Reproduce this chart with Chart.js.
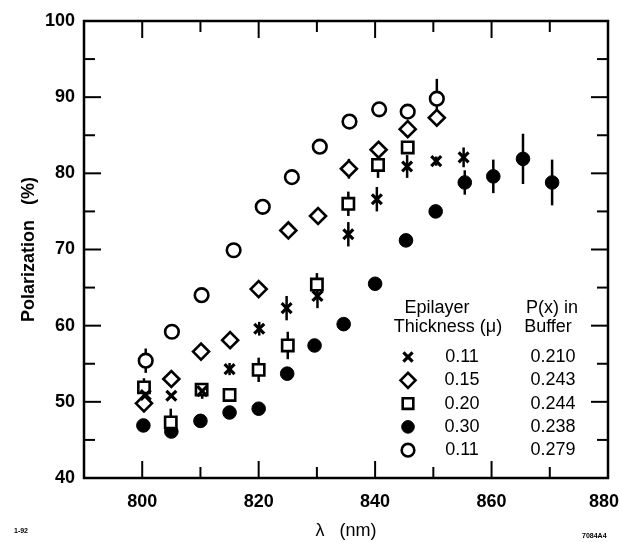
<!DOCTYPE html>
<html>
<head>
<meta charset="utf-8">
<script src="https://cdn.jsdelivr.net/npm/chart.js@4"></script>
<style>
  body { margin: 0; background: #fff; }
  #chart { display: block; }
</style>
</head>
<body>
<canvas id="chart" width="620" height="542"></canvas>
<script>
// values (wavelength in nm, polarization in %)
// err = half length of the vertical error bar, 0 where none is drawn
const crossX = [800.6, 805.0, 810.3, 815.0, 820.1, 824.8, 830.1, 835.4, 840.3, 845.5, 850.5, 855.2];
const crossY = [50.9, 50.8, 51.4, 54.3, 59.6, 62.3, 63.9, 72.0, 76.6, 80.9, 81.6, 82.1];
const crossErr = [0, 0, 1.0, 0.8, 0.9, 1.6, 1.6, 1.6, 1.6, 1.5, 0.6, 1.3];

const diamondX = [800.3, 805.0, 810.1, 815.1, 820.0, 825.1, 830.2, 835.5, 840.6, 845.6, 850.6];
const diamondY = [49.8, 53.0, 56.6, 58.1, 64.8, 72.5, 74.4, 80.6, 83.1, 85.8, 87.3];
const diamondErr = [0, 0, 0, 0, 0, 0, 0, 1.3, 0, 0, 0];

const squareX = [800.3, 804.9, 810.2, 815.0, 820.0, 825.0, 830.0, 835.4, 840.5, 845.6];
const squareY = [51.9, 47.3, 51.6, 50.9, 54.2, 57.4, 65.4, 76.0, 81.1, 83.4];
const squareErr = [1.2, 1.8, 0, 0, 1.6, 1.8, 1.5, 1.6, 1.7, 0];

const filledX = [800.2, 805.0, 810.0, 815.0, 820.0, 824.9, 829.6, 834.6, 840.0, 845.3, 850.4, 855.4, 860.3, 865.4, 870.4];
const filledY = [46.9, 46.1, 47.5, 48.6, 49.1, 53.7, 57.4, 60.2, 65.5, 71.2, 75.0, 78.8, 79.6, 81.9, 78.8];
const filledErr = [0, 0, 0, 0, 0, 0, 0, 0, 0, 0, 0, 1.6, 2.2, 3.3, 3.0];

const openX = [800.6, 805.1, 810.2, 815.7, 820.7, 825.7, 830.5, 835.6, 840.7, 845.6, 850.6];
const openY = [55.4, 59.2, 64.0, 69.9, 75.6, 79.5, 83.5, 86.8, 88.4, 88.1, 89.8];
const openErr = [1.6, 0, 0, 0, 0, 0, 0, 0, 0, 0, 2.6];

// legend table
const thickness = ['0.11', '0.15', '0.20', '0.30', '0.11'];
const bufferPx = ['0.210', '0.243', '0.244', '0.238', '0.279'];

// axes
const xTickLabels = [800, 820, 840, 860, 880];
const xTickMarks = [800, 810, 820, 830, 840, 850, 860, 870];
const yTickLabels = [40, 50, 60, 70, 80, 90, 100];
const yTickMarks = [45, 50, 55, 60, 65, 70, 75, 80, 85, 90, 95];

const font = '"Liberation Sans", Arial, Helvetica, sans-serif';

function pts(xs, ys) {
  return xs.map((x, i) => ({ x: x, y: ys[i] }));
}

function series(xs, ys, errs, style, radius, fill, bw) {
  return {
    data: pts(xs, ys),
    errors: errs,
    pointStyle: style,
    pointRadius: radius,
    pointHoverRadius: radius,
    pointBackgroundColor: fill,
    pointBorderColor: '#000',
    pointBorderWidth: bw,
    showLine: false
  };
}

const datasets = [
  series(crossX, crossY, crossErr, 'crossRot', 7, '#000', 3.2),
  series(diamondX, diamondY, diamondErr, 'rectRot', 8, '#fff', 2.6),
  series(squareX, squareY, squareErr, 'rect', 8, '#fff', 2.6),
  series(filledX, filledY, filledErr, 'circle', 6.8, '#000', 1),
  series(openX, openY, openErr, 'circle', 6.8, '#fff', 2.6)
];

const errorBars = {
  id: 'errorBars',
  beforeDatasetsDraw(chart) {
    const ctx = chart.ctx;
    const x = chart.scales.x, y = chart.scales.y;
    ctx.save();
    ctx.strokeStyle = '#000';
    ctx.lineWidth = 2.5;
    chart.data.datasets.forEach((ds) => {
      ds.data.forEach((p, i) => {
        const e = ds.errors[i];
        if (!e) return;
        const px = x.getPixelForValue(p.x);
        ctx.beginPath();
        ctx.moveTo(px, y.getPixelForValue(p.y + e));
        ctx.lineTo(px, y.getPixelForValue(p.y - e));
        ctx.stroke();
      });
    });
    ctx.restore();
  }
};

function line(ctx, x1, y1, x2, y2) {
  ctx.beginPath();
  ctx.moveTo(x1, y1);
  ctx.lineTo(x2, y2);
  ctx.stroke();
}

const frame = {
  id: 'frame',
  afterDraw(chart) {
    const ctx = chart.ctx;
    const a = chart.chartArea;
    const x = chart.scales.x, y = chart.scales.y;
    ctx.save();
    ctx.strokeStyle = '#000';
    ctx.lineWidth = 2.5;
    ctx.strokeRect(a.left, a.top, a.right - a.left, a.bottom - a.top);
    ctx.lineWidth = 2;
    xTickMarks.forEach((v) => {
      const len = xTickLabels.includes(v) ? 17 : 11;
      const px = x.getPixelForValue(v);
      line(ctx, px, a.bottom, px, a.bottom - len);
      line(ctx, px, a.top, px, a.top + len);
    });
    yTickMarks.forEach((v) => {
      const len = yTickLabels.includes(v) ? 17 : 11;
      const py = y.getPixelForValue(v);
      line(ctx, a.left, py, a.left + len, py);
      line(ctx, a.right, py, a.right - len, py);
    });

    // last x label sits at the canvas edge, pull it in so it is not cut
    ctx.fillStyle = '#000';
    ctx.font = 'bold 18px ' + font;
    ctx.textAlign = 'right';
    ctx.textBaseline = 'middle';
    const last = xTickLabels[xTickLabels.length - 1];
    ctx.fillText(String(last), 619, a.bottom + 24);

    // legend table inside the plot
    const lx = a.left;
    const ly = a.top;
    ctx.font = '18px ' + font;
    ctx.textAlign = 'center';
    ctx.fillText('Epilayer', lx + 353, ly + 287);
    ctx.fillText('Thickness (\u03bc)', lx + 364, ly + 306);
    ctx.fillText('P(x) in', lx + 468, ly + 287);
    ctx.fillText('Buffer', lx + 464, ly + 306);
    datasets.forEach((ds, i) => {
      const ry = ly + 336 + i * 23.3;
      ctx.save();
      ctx.fillStyle = ds.pointBackgroundColor;
      ctx.strokeStyle = '#000';
      ctx.lineWidth = ds.pointBorderWidth;
      Chart.helpers.drawPoint(ctx, {
        pointStyle: ds.pointStyle,
        radius: ds.pointRadius - 0.5,
        borderWidth: ds.pointBorderWidth
      }, lx + 324, ry);
      ctx.restore();
      ctx.fillStyle = '#000';
      ctx.fillText(thickness[i], lx + 378, ry);
      ctx.fillText(bufferPx[i], lx + 469, ry);
    });

    // corner notes
    ctx.font = 'bold 7px ' + font;
    ctx.textAlign = 'left';
    ctx.fillText('1-92', 14, 531);
    ctx.fillText('7084A4', 582, 536);
    ctx.restore();
  }
};

const ctx = document.getElementById('chart').getContext('2d');
new Chart(ctx, {
  type: 'scatter',
  data: { datasets: datasets },
  options: {
    responsive: false,
    devicePixelRatio: 1,
    animation: false,
    layout: { padding: { top: 21, right: 12, left: 0, bottom: 0 } },
    plugins: {
      legend: { display: false },
      tooltip: { enabled: false }
    },
    scales: {
      x: {
        type: 'linear',
        min: 790,
        max: 880,
        grid: { display: false, drawTicks: false },
        border: { display: false },
        afterBuildTicks: (s) => { s.ticks = xTickLabels.map((v) => ({ value: v })); },
        afterFit: (s) => { s.height = 64; s.paddingLeft = 0; s.paddingRight = 0; },
        ticks: {
          padding: 13,
          maxRotation: 0,
          autoSkip: false,
          color: '#000',
          font: { family: font, size: 18, weight: 'bold' },
          callback: (v) => (v === xTickLabels[xTickLabels.length - 1] ? '' : String(v))
        },
        title: {
          display: true,
          text: '\u03bb   (nm)',
          color: '#000',
          padding: { top: 0, bottom: 0 },
          font: { family: font, size: 18 }
        }
      },
      y: {
        type: 'linear',
        min: 40,
        max: 100,
        grid: { display: false, drawTicks: false },
        border: { display: false },
        afterBuildTicks: (s) => { s.ticks = yTickLabels.map((v) => ({ value: v })); },
        afterFit: (s) => { s.width = 84; },
        ticks: {
          padding: 9,
          autoSkip: false,
          color: '#000',
          font: { family: font, size: 18, weight: 'bold' }
        },
        title: {
          display: true,
          text: 'Polarization   (%)',
          color: '#000',
          padding: { top: 18, bottom: 0 },
          font: { family: font, size: 18, weight: 'bold' }
        }
      }
    }
  },
  plugins: [errorBars, frame]
});
</script>
</body>
</html>
